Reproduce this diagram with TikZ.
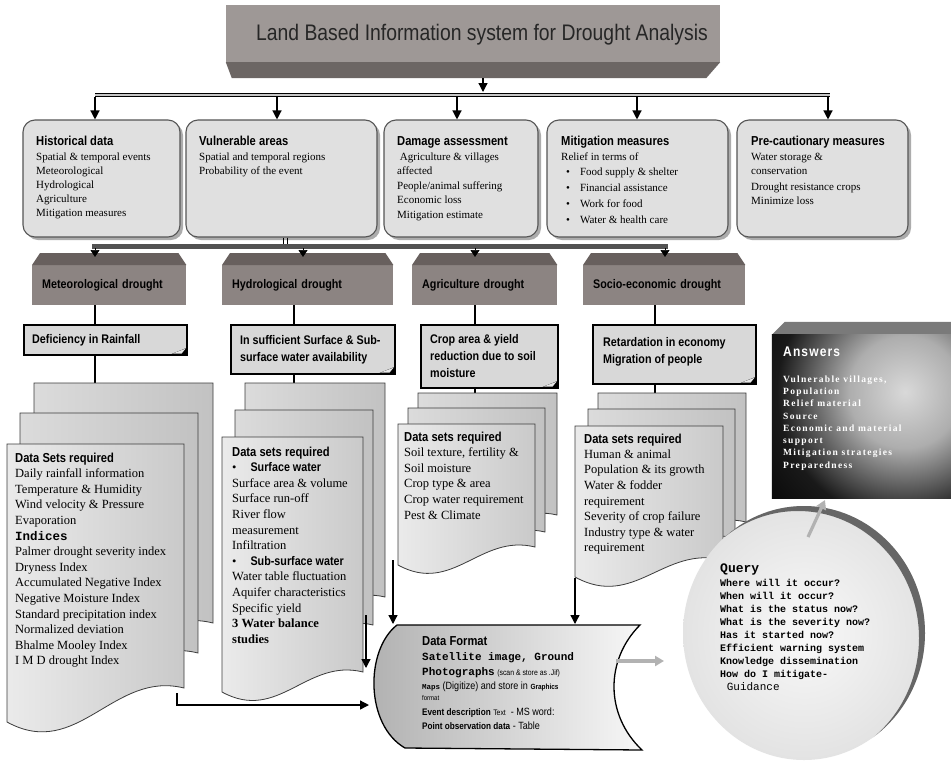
\documentclass[tikz,border=0pt]{standalone}
\usepackage{fontspec}
\setmainfont{Liberation Serif}
\setmonofont{Liberation Mono}
\newfontfamily\narrow[FakeStretch=0.86]{Liberation Sans}
\newfontfamily\titlefont[FakeStretch=0.86]{Liberation Sans}
\newfontfamily\ansfont[LetterSpace=14]{Liberation Serif}
\newfontfamily\anshead[LetterSpace=8,FakeStretch=0.86]{Liberation Sans}
\usetikzlibrary{arrows.meta,shadows}

\definecolor{titleface}{RGB}{158,152,150}
\definecolor{titleband}{RGB}{108,102,100}
\definecolor{dfront}{RGB}{140,132,130}
\definecolor{dtop}{RGB}{104,96,94}
\definecolor{boxfill}{RGB}{224,224,224}
\definecolor{boxline}{RGB}{85,85,85}
\definecolor{notefill}{RGB}{216,216,216}
\definecolor{pageline}{RGB}{60,60,60}

\newcommand\hdr{\narrow\bfseries\fontsize{13}{15}\selectfont}

% one sheet of a stacked document: style, left x, top y, right x, bottom y at left, bottom y at right
\newcommand\docpage[6]{%
  \pgfmathsetmacro\pw{#4-#2}%
  \pgfmathsetmacro\pax{#2+0.6*\pw}\pgfmathsetmacro\pay{#6-0.1*\pw}%
  \pgfmathsetmacro\pbx{#2+0.4*\pw}\pgfmathsetmacro\pby{#5+0.22*\pw}%
  \path[#1] (#2,#3) -- (#4,#3) -- (#4,#6) .. controls (\pax,\pay) and (\pbx,\pby) .. (#2,#5) -- cycle;}

% radial shading for the answers panel: 25bp is the rim of the shaded path
\pgfdeclareradialshading{glow}{\pgfpoint{0bp}{0bp}}{color(0bp)=(black!15); color(7bp)=(black!32); color(16bp)=(black!90); color(25bp)=(black); color(50bp)=(black)}

\begin{document}
\begin{tikzpicture}[x=1pt,y=-1pt,
  arr/.style={-{Triangle[width=9pt,length=9pt]}, line width=1.3pt},
  smallarr/.style={-{Triangle[width=9pt,length=7pt]}, line width=0.6pt},
  conn/.style={line width=1.6pt},
  garr/.style={-{Triangle[width=10pt,length=9pt]}, line width=3.2pt, draw=gray!60},
  topbox/.style={draw=boxline, line width=1.1pt, fill=boxfill, rounded corners=12pt, inner sep=0pt,
    drop shadow={shadow xshift=3pt, shadow yshift=-3pt, fill=gray!65, opacity=1}},
  blk/.style={inner sep=0pt, align=left, anchor=north west},
  toptext/.style={blk, font=\fontsize{11}{14}\selectfont},
  stacktext/.style={blk, font=\fontsize{12.5}{15.6}\selectfont},
  dbox/.style={fill=dfront, inner xsep=10pt, inner ysep=0pt, minimum height=40pt, text width=#1,
    align=left, anchor=north west, font=\narrow\bfseries\fontsize{12.5}{14}\selectfont},
  note/.style={draw=black, line width=1.6pt, fill=notefill, inner sep=0pt, anchor=north west},
  notetext/.style={inner sep=0pt, align=left, anchor=west, font=\narrow\bfseries\fontsize{12.5}{17}\selectfont},
  pg/.style={draw=pageline, line width=0.8pt, left color=gray!16, right color=gray!42},
  pgb/.style={draw=pageline, line width=0.8pt, left color=gray!28, right color=gray!48}
]
\useasboundingbox (0,0) rectangle (951,761);
\clip (0,0) rectangle (951,761);
\fill[white] (0,0) rectangle (951,761);

% ---------- title block ----------
\node[fill=titleface, minimum width=494pt, minimum height=57pt, inner sep=0pt] (title) at (473,33.5) {};
\fill[titleband] (title.south west) -- (title.south east) -- ++(-14,16)
  -- ([xshift=6pt,yshift=-16pt]title.south west) -- cycle;
\node[font=\titlefont\fontsize{22.5}{24}\selectfont, inner sep=0pt, text=black!85] (titleT) at (482,35)
  {Land Based Information system for Drought Analysis};

% ---------- upper distribution bus ----------
\coordinate (titleB) at (483,78);
\coordinate (busT) at (483,95);
\coordinate (busL) at (95,95);
\coordinate (busR) at (830,95);
\draw[line width=4pt] (busL) -- (busR);
\draw[line width=1.6pt, gray!45] (busL) -- (busR);
\draw[arr] (titleB) -- ([yshift=3pt]busT);

% ---------- information boxes ----------
\node[topbox, minimum width=157pt, minimum height=117pt] (hist) at (101.5,178.5) {};
\node[topbox, minimum width=191pt, minimum height=117pt] (vuln) at (281.5,178.5) {};
\node[topbox, minimum width=154pt, minimum height=117pt] (dam)  at (461,178.5) {};
\node[topbox, minimum width=181pt, minimum height=117pt] (mit)  at (637.5,178.5) {};
\node[topbox, minimum width=171pt, minimum height=117pt] (pre)  at (822.5,178.5) {};

\foreach \n/\x in {hist/95, vuln/277, dam/457, mit/637, pre/828}{
  \coordinate (t\n) at (\x,97);
  \draw[arr] (t\n) -- (t\n |- \n.north);
}

\node[toptext] (histT) at (36,136) {{\hdr Historical data}\\[1pt]
  Spatial \& temporal events\\ Meteorological\\ Hydrological\\ Agriculture\\ Mitigation measures};
\node[toptext] (vulnT) at (199,136) {{\hdr Vulnerable areas}\\[1pt]
  Spatial and temporal regions\\ Probability of the event};
\node[toptext, font=\fontsize{11}{14.5}\selectfont] (damT) at (397,136) {{\hdr Damage assessment}\\[0.5pt]
  \ Agriculture \& villages\\ affected\\ People/animal suffering\\ Economic loss\\ Mitigation estimate};
\node[toptext] (mitT) at (561,136) {{\hdr Mitigation measures}\\[1pt]
  Relief in terms of\\[1pt]
  \hspace*{5pt}\textbullet\hspace{10pt}Food supply \& shelter\\[2pt]
  \hspace*{5pt}\textbullet\hspace{10pt}Financial assistance\\[2pt]
  \hspace*{5pt}\textbullet\hspace{10pt}Work for food\\[2pt]
  \hspace*{5pt}\textbullet\hspace{10pt}Water \& health care};
\node[toptext] (preT) at (751,136) {{\hdr Pre-cautionary measures}\\[1pt]
  Water storage \&\\ conservation\\[1.5pt] Drought resistance crops\\ Minimize loss};

% ---------- lower distribution bus ----------
\coordinate (vb) at (285,0);
\coordinate (bus2L) at (92,246);
\coordinate (bus2R) at (668,246);
\draw[line width=0.8pt] ([xshift=-2pt]vuln.south -| vb) -- ([xshift=-2pt]vb |- bus2L);
\draw[line width=0.8pt] ([xshift=2pt]vuln.south -| vb) -- ([xshift=2pt]vb |- bus2L);
\draw[line width=5pt, black!68] (bus2L) -- (bus2R);

% ---------- drought types ----------
\node[dbox=134pt] (met)  at (32,265)  {Meteorological drought};
\node[dbox=151pt] (hyd)  at (222,265) {Hydrological drought};
\node[dbox=125pt] (agr)  at (412,265) {Agriculture drought};
\node[dbox=142pt] (soc)  at (583,265) {Socio-economic drought};
\foreach \n in {met,hyd,agr,soc}{
  \fill[dtop] (\n.north west) -- ([xshift=8pt,yshift=12pt]\n.north west)
    -- ([xshift=-8pt,yshift=12pt]\n.north east) -- (\n.north east) -- cycle;
}
\foreach \n/\x in {met/95, hyd/303, agr/475, soc/665}{
  \coordinate (d\n) at (\x,248);
  \draw[smallarr] (d\n) -- ([yshift=-9pt]d\n);
}

% ---------- drought descriptions ----------
\node[note, minimum width=163pt, minimum height=30pt] (metN) at (23,324) {};
\node[note, minimum width=164pt, minimum height=49pt] (hydN) at (230,324) {};
\node[note, minimum width=137pt, minimum height=63pt] (agrN) at (420,324) {};
\node[note, minimum width=163pt, minimum height=59pt] (socN) at (592,324) {};
\node[notetext] (metNT) at ([xshift=9pt]metN.west) {Deficiency in Rainfall};
\node[notetext] (hydNT) at ([xshift=10pt]hydN.west) {In sufficient Surface \& Sub-\\surface water availability};
\node[notetext] (agrNT) at ([xshift=10pt]agrN.west) {Crop area \& yield\\reduction due to soil\\moisture};
\node[notetext] (socNT) at ([xshift=11pt,yshift=3pt]socN.west) {Retardation in economy\\Migration of people};
\foreach \n in {metN,hydN,agrN,socN}{
  \fill[black] ([xshift=-20pt]\n.south east) -- (\n.south east) -- ([yshift=8pt]\n.south east) -- cycle;
  \fill[notefill!60!white] ([xshift=-15pt,yshift=2pt]\n.south east) -- ([xshift=-2pt,yshift=7pt]\n.south east)
    -- ([xshift=-6pt,yshift=2pt]\n.south east) -- cycle;
}

% vertical links
\coordinate (cmet) at (95,0);
\coordinate (chyd) at (294,0);
\coordinate (cagr) at (475,0);
\coordinate (csoc) at (655,0);
\coordinate (metS) at (95,383);
\coordinate (hydS) at (294,383);
\coordinate (agrS) at (475,393);
\coordinate (socS) at (655,393);
\draw[conn] (met.south -| cmet) -- (metN.north -| cmet);
\draw[conn] (hyd.south -| chyd) -- (hydN.north -| chyd);
\draw[conn] (agr.south -| cagr) -- (agrN.north -| cagr);
\draw[conn] (soc.south -| csoc) -- (socN.north -| csoc);
\draw[conn] (metN.south -| cmet) -- (metS);
\draw[conn] (hydN.south -| chyd) -- (hydS);
\draw[conn] (agrN.south -| cagr) -- (agrS);
\draw[conn] (socN.south -| csoc) -- (socS);

% ---------- stacked data-set documents ----------
\docpage{pgb}{34}{383}{213}{653}{623}
\docpage{pgb}{20}{413}{198}{683}{653}
\docpage{pg}{7}{444}{184}{722}{688}

\docpage{pgb}{245}{383}{385}{627}{597}
\docpage{pgb}{235}{410}{373}{655}{625}
\docpage{pg}{222}{437}{363}{692}{672}

\docpage{pgb}{418}{393}{557}{545}{515}
\docpage{pgb}{408}{408}{545}{562}{532}
\docpage{pg}{398}{424}{535}{565}{547}

\docpage{pgb}{598}{393}{746}{552}{522}
\docpage{pgb}{588}{409}{735}{568}{538}
\docpage{pg}{575}{426}{723}{577}{560}

\node[stacktext] (metD) at (15,453) {{\hdr Data Sets required}\\[-0.5pt]
  Daily rainfall information\\ Temperature \& Humidity\\ Wind velocity \& Pressure\\ Evaporation\\
  {\ttfamily\bfseries Indices}\\ Palmer drought severity index\\ Dryness Index\\ Accumulated Negative Index\\
  Negative Moisture Index\\ Standard precipitation index\\ Normalized deviation\\ Bhalme Mooley Index\\
  I M D drought Index};
\node[stacktext] (hydD) at (232,447) {{\hdr Data sets required}\\[-0.5pt]
  \textbullet\hspace{14pt}{\narrow\bfseries Surface water}\\ Surface area \& volume\\ Surface run-off\\
  River flow\\ measurement\\ Infiltration\\
  \textbullet\hspace{14pt}{\narrow\bfseries Sub-surface water}\\ Water table fluctuation\\
  Aquifer characteristics\\ Specific yield\\ \textbf{3 Water balance}\\ \textbf{studies}};
\node[stacktext] (agrD) at (404,432) {{\hdr Data sets required}\\[-0.5pt]
  Soil texture, fertility \&\\ Soil moisture\\ Crop type \& area\\ Crop water requirement\\ Pest \& Climate};
\node[stacktext] (socD) at (584,434) {{\hdr Data sets required}\\[-1pt]
  Human \& animal\\ Population \& its growth\\ Water \& fodder\\ requirement\\ Severity of crop failure\\
  Industry type \& water\\ requirement};

% ---------- data format ----------
\path[draw=black, line width=1.3pt, left color=gray!62, right color=gray!6]
  (397,625) -- (640,625) .. controls (605,660) and (605,715) .. (642,750)
  -- (405,748) .. controls (365,725) and (365,650) .. (397,625) -- cycle;
\node[blk, font=\fontsize{10}{14.5}\selectfont] (dfT) at (422,636) {{\hdr Data Format}\\[1pt]
  {\ttfamily\bfseries\fontsize{11}{13}\selectfont Satellite image, Ground}\\
  {\ttfamily\bfseries\fontsize{11}{13}\selectfont Photographs} {\narrow\fontsize{8}{10}\selectfont (scan \& store as .Jif)}\\
  {\ttfamily\bfseries\fontsize{7.5}{10}\selectfont Maps} {\narrow\fontsize{10.5}{12}\selectfont (Digitize) and store in}
    {\narrow\bfseries\fontsize{7.5}{10}\selectfont Graphics}\\[-3.5pt]
  {\narrow\fontsize{7}{9}\selectfont format}\\
  {\narrow\bfseries\fontsize{9.5}{11}\selectfont Event description} {\narrow\fontsize{8}{10}\selectfont Text}\hspace{5pt}{\narrow\fontsize{10.5}{12}\selectfont - MS word:}\\
  {\narrow\bfseries\fontsize{9.5}{11}\selectfont Point observation data} {\narrow\fontsize{10.5}{12}\selectfont - Table}};

% links from the data sets into the data format
\coordinate (agrOut) at (393,560);
\coordinate (socOut) at (575,578);
\coordinate (hydOut) at (366,615);
\coordinate (metOut) at (177,693);
\coordinate (dfTop) at (0,624);
\coordinate (dfHyd) at (0,668);
\coordinate (dfMet) at (369,705);
\draw[arr] (agrOut) -- (agrOut |- dfTop);
\draw[arr] (socOut) -- (socOut |- dfTop);
\draw[arr] (hydOut) -- (hydOut |- dfHyd);
\draw[arr] (metOut) -- (metOut |- dfMet) -- (dfMet);

% ---------- answers ----------
\node[inner sep=0pt, minimum width=188pt, minimum height=163pt] (ans) at (866,416.5) {};
\fill[black!52] (ans.north west) -- ++(13,-13) -- ([yshift=13pt]ans.north east) -- (ans.north east) -- cycle;
\begin{scope}
  \clip (ans.north west) rectangle (ans.south east);
  \shade[shading=glow] (905,392) circle (200pt);
\end{scope}
\node[blk, text=white, font=\ansfont\bfseries\fontsize{9.5}{12.3}\selectfont] (ansT) at (783,347)
  {{\anshead\fontsize{14}{15}\selectfont Answers}\\[13pt]
  Vulnerable villages,\\ Population\\ Relief material\\ Source\\ Economic and material\\ support\\
  Mitigation strategies\\ Preparedness};

% ---------- query ----------
\coordinate (qc) at (804,633);
\shade[inner color=gray!5, outer color=gray!22] (qc) ellipse (121pt and 127pt);
% dark crescent on the upper right rim: the disc minus a copy shifted down-left
\begin{scope}[even odd rule]
  \clip ([shift={(-6,5)}]qc) ellipse (121pt and 127pt) (600,450) rectangle (960,770);
  \fill[black!60] (qc) ellipse (121pt and 127pt);
\end{scope}
\node[blk, font=\ttfamily\bfseries\fontsize{10}{13}\selectfont] (qT) at (720,563.5)
  {{\fontsize{13}{14}\selectfont Query}\\[1pt]
  Where will it occur?\\ When will it occur?\\ What is the status now?\\ What is the severity now?\\
  Has it started now?\\ Efficient warning system\\ Knowledge dissemination\\ How do I mitigate-\\
  {\mdseries\fontsize{11}{13}\selectfont\ Guidance}};

% grey flow arrows
\coordinate (dfOut) at (616,661);
\coordinate (qIn) at (664,661);
\coordinate (qOut) at (808,537);
\coordinate (ansIn) at (825,500);
\draw[garr] (dfOut) -- (qIn);
\draw[garr] (qOut) -- (ansIn);
\end{tikzpicture}
\end{document}
